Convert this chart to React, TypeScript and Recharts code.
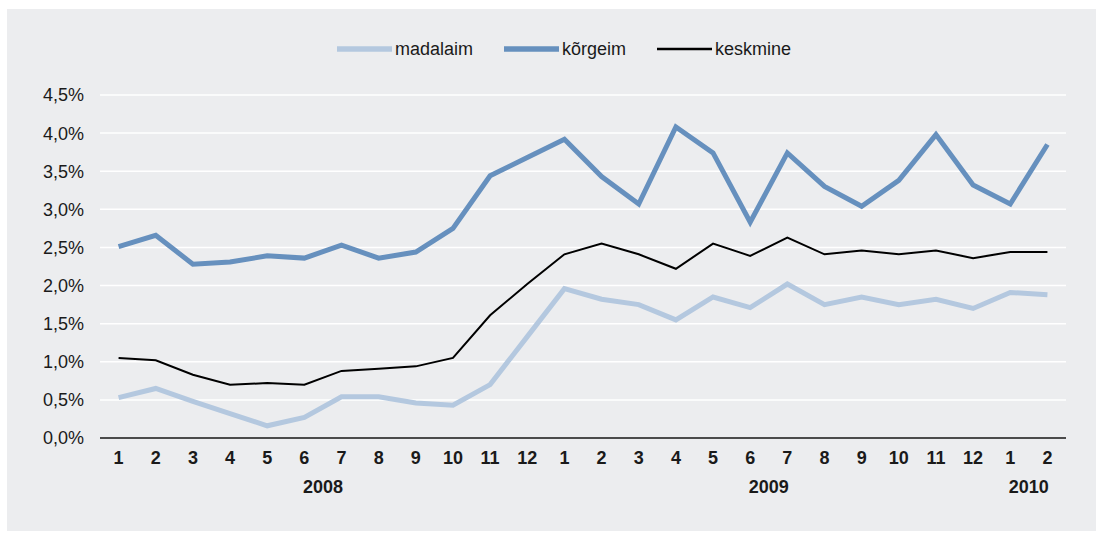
import React from 'react';
import { LineChart, Line, XAxis, YAxis, CartesianGrid } from 'recharts';

const months = ['1','2','3','4','5','6','7','8','9','10','11','12','1','2','3','4','5','6','7','8','9','10','11','12','1','2'];
const years = ['2008','2008','2008','2008','2008','2008','2008','2008','2008','2008','2008','2008','2009','2009','2009','2009','2009','2009','2009','2009','2009','2009','2009','2009','2010','2010'];
const madalaim = [0.53,0.65,0.48,0.32,0.16,0.27,0.54,0.54,0.46,0.43,0.70,1.33,1.96,1.82,1.75,1.55,1.85,1.71,2.02,1.75,1.85,1.75,1.82,1.70,1.91,1.88];
const korgeim = [2.51,2.66,2.28,2.31,2.39,2.36,2.53,2.36,2.44,2.75,3.44,3.68,3.92,3.43,3.07,4.08,3.74,2.83,3.74,3.30,3.04,3.38,3.98,3.32,3.07,3.85];
const keskmine = [1.05,1.02,0.83,0.70,0.72,0.70,0.88,0.91,0.94,1.05,1.61,2.02,2.41,2.55,2.41,2.22,2.55,2.39,2.63,2.41,2.46,2.41,2.46,2.36,2.44,2.44];
const yTicks = [0,0.5,1,1.5,2,2.5,3,3.5,4,4.5];

const seriesNames = ['madalaim', 'kõrgeim', 'keskmine'];
const seriesColors = ['#b4c8df', '#6690be', '#000000'];
const seriesWidths = [5, 5, 2];

const data = months.map((m, i) => ({
  key: `${years[i]}-${m}`,
  month: m,
  year: years[i],
  madalaim: madalaim[i],
  korgeim: korgeim[i],
  keskmine: keskmine[i],
}));

const CHART_W = 1089;
const CHART_H = 522;
const MARGIN = { top: 86, right: 30, left: 33, bottom: 33 };
const Y_W = 60;
const PLOT_W = CHART_W - MARGIN.left - MARGIN.right - Y_W;
const BAND = PLOT_W / months.length;
const FONT = '"Liberation Sans", Arial, Helvetica, sans-serif';

// year group centers (in index units)
const yearCenters: Record<number, { label: string; frac: number }> = {};
{
  const groups: Record<string, number[]> = {};
  years.forEach((y, i) => { (groups[y] = groups[y] || []).push(i); });
  Object.keys(groups).forEach((y) => {
    const idx = groups[y];
    const mean = (idx[0] + idx[idx.length - 1]) / 2;
    const f = Math.floor(mean);
    yearCenters[f] = { label: y, frac: mean - f };
  });
}

const MonthTick = (props: any) => {
  const { x, y, payload, index } = props;
  const i = payload && typeof payload.index === 'number' ? payload.index : index;
  const yc = yearCenters[i];
  return (
    <g>
      <text x={x} y={y} dy={26} textAnchor="middle" fontFamily={FONT} fontSize={18} fontWeight="bold" fill="#1a1a1a">
        {months[i]}
      </text>
      {yc && (
        <text x={x + yc.frac * BAND} y={y} dy={55} textAnchor="middle" fontFamily={FONT} fontSize={18} fontWeight="bold" fill="#1a1a1a">
          {yc.label}
        </text>
      )}
    </g>
  );
};

const fmt = (v: number) => v.toFixed(1).replace('.', ',') + '%';

export default function App() {
  return (
    <div style={{ position: 'absolute', left: 0, top: 0, width: 1103, height: 533, background: '#ffffff' }}>
      <div style={{ position: 'absolute', left: 7, top: 9, width: CHART_W, height: CHART_H, background: '#ecedef' }}>
        <div
          style={{
            position: 'absolute',
            left: 330,
            top: 30,
            height: 20,
            display: 'flex',
            alignItems: 'center',
            fontFamily: FONT,
            fontSize: 18,
            color: '#1a1a1a',
            whiteSpace: 'nowrap',
          }}
        >
          {seriesNames.map((n, i) => (
            <div key={n} style={{ display: 'flex', alignItems: 'center', marginRight: 31 }}>
              <svg width={55} height={10} style={{ marginRight: 3 }}>
                <line x1={0} x2={55} y1={5} y2={5} stroke={seriesColors[i]} strokeWidth={seriesWidths[i] + 0.5} />
              </svg>
              <span>{n}</span>
            </div>
          ))}
        </div>
        <LineChart width={CHART_W} height={CHART_H} data={data} margin={MARGIN}>
          <CartesianGrid vertical={false} stroke="#ffffff" strokeWidth={1.5} />
          <XAxis
            dataKey="key"
            interval={0}
            tickLine={false}
            tickSize={0}
            tickMargin={0}
            height={60}
            padding={{ left: BAND / 2, right: BAND / 2 }}
            axisLine={{ stroke: '#111111', strokeWidth: 1.5 }}
            tick={<MonthTick />}
          />
          <YAxis
            domain={[0, 4.5]}
            ticks={yTicks}
            width={Y_W}
            axisLine={false}
            tickLine={false}
            tickSize={0}
            tickMargin={16}
            tickFormatter={fmt}
            tick={{ fontFamily: FONT, fontSize: 18, fill: '#1a1a1a' }}
          />
          <Line type="linear" dataKey="madalaim" stroke={seriesColors[0]} strokeWidth={seriesWidths[0]} dot={false} activeDot={false} isAnimationActive={false} />
          <Line type="linear" dataKey="korgeim" stroke={seriesColors[1]} strokeWidth={seriesWidths[1]} dot={false} activeDot={false} isAnimationActive={false} />
          <Line type="linear" dataKey="keskmine" stroke={seriesColors[2]} strokeWidth={seriesWidths[2]} dot={false} activeDot={false} isAnimationActive={false} />
        </LineChart>
      </div>
    </div>
  );
}
